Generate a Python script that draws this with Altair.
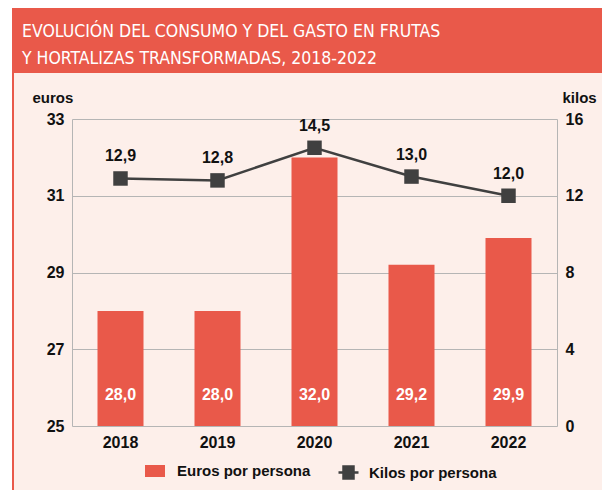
import altair as alt
import pandas as pd

years = ["2018", "2019", "2020", "2021", "2022"]
euros = [28.0, 28.0, 32.0, 29.2, 29.9]
kilos = [12.9, 12.8, 14.5, 13.0, 12.0]
title_lines = ["EVOLUCIÓN DEL CONSUMO Y DEL GASTO EN FRUTAS",
               "Y HORTALIZAS TRANSFORMADAS, 2018-2022"]
euro_ticks = [25, 27, 29, 31, 33]
kilo_ticks = [0, 4, 8, 12, 16]

RED = "#E9594A"
PINK = "#FDEFEA"
DARK = "#404040"
FONT = "Liberation Sans"
TFONT = "DejaVu Sans Condensed"

def fmt(v):
    return f"{v:.1f}".replace(".", ",")

df = pd.DataFrame({
    "year": years,
    "euros": euros,
    "kilos": kilos,
    "euros_lbl": [fmt(v) for v in euros],
    "kilos_lbl": [fmt(v) for v in kilos],
    "s1": ["Euros por persona"] * 5,
    "s2": ["Kilos por persona"] * 5,
})

W, H = 485, 307
one = pd.DataFrame({"a": [0]})

white_strip = alt.Chart(one).mark_rect(color="white").encode(
    x=alt.value(-64), x2=alt.value(-60), y=alt.value(-111), y2=alt.value(371))
border = alt.Chart(one).mark_rect(color=RED).encode(
    x=alt.value(-60), x2=alt.value(-58), y=alt.value(-47), y2=alt.value(371))
banner = alt.Chart(one).mark_rect(color=RED).encode(
    x=alt.value(-60), x2=alt.value(530), y=alt.value(-113), y2=alt.value(-46))
t1 = alt.Chart(one).mark_text(align="left", baseline="alphabetic", color="white",
                              font=TFONT, fontSize=17.5).encode(
    x=alt.value(-50), y=alt.value(-82), text=alt.value(title_lines[0]))
t2 = alt.Chart(one).mark_text(align="left", baseline="alphabetic", color="white",
                              font=TFONT, fontSize=17.5).encode(
    x=alt.value(-50), y=alt.value(-55), text=alt.value(title_lines[1]))

xenc = alt.X("year:N", title=None,
             axis=alt.Axis(labelAngle=0, domain=False, ticks=False, labelPadding=8,
                           labelFontSize=16, labelFontWeight="bold", labelColor="#111",
                           labelFont=FONT))

base = alt.Chart(df)

bars = base.mark_bar(size=46).encode(
    x=xenc,
    y=alt.Y("euros:Q", scale=alt.Scale(domain=[25, 33], nice=False, zero=False),
            axis=alt.Axis(orient="left", values=euro_ticks, grid=True, gridColor="#B5B5B5",
                          domain=True, domainColor="#B5B5B5", ticks=False, labelPadding=8,
                          labelFontSize=16, labelFontWeight="bold", labelColor="#111",
                          labelFont=FONT, title="euros", titleAngle=0, titleAlign="left",
                          titleBaseline="middle", titleX=-40, titleY=-22, titleFontSize=15,
                          titleFontWeight="bold", titleColor="#111", titleFont=FONT)),
    y2=alt.datum(25),
    color=alt.Color("s1:N", scale=alt.Scale(range=[RED]),
                    legend=alt.Legend(orient="none", legendX=73, legendY=342, title=None,
                                      symbolType="M-1,-0.6L1,-0.6L1,0.6L-1,0.6Z",
                                      symbolSize=400, symbolStrokeWidth=0, padding=0,
                                      labelFontSize=15, labelFontWeight="bold",
                                      labelColor="#111", labelFont=FONT, labelOffset=12)),
)
bar_txt = base.mark_text(color="white", fontSize=16, fontWeight="bold", font=FONT,
                         baseline="middle", dy=-31).encode(
    x=alt.X("year:N"), y=alt.datum(25), text="euros_lbl:N")

bar_layer = alt.layer(bars, bar_txt)

yk = alt.Y("kilos:Q", scale=alt.Scale(domain=[0, 16], nice=False),
           axis=alt.Axis(orient="right", values=kilo_ticks, grid=False,
                         domain=True, domainColor="#B5B5B5", ticks=False, labelPadding=8,
                         labelFontSize=16, labelFontWeight="bold", labelColor="#111",
                         labelFont=FONT, title="kilos", titleAngle=0, titleAlign="left",
                         titleBaseline="middle", titleX=5, titleY=-22, titleFontSize=15,
                         titleFontWeight="bold", titleColor="#111", titleFont=FONT))

line = base.mark_line(color=DARK, strokeWidth=2.5).encode(x=alt.X("year:N"), y=yk)
pts = base.mark_square(size=210, opacity=1, filled=True).encode(
    x=alt.X("year:N"), y=yk,
    color=alt.Color("s2:N", scale=alt.Scale(range=[DARK]),
                    legend=alt.Legend(orient="none", legendX=265, legendY=342, title=None,
                                      symbolType="M-1,0L1,0M-0.5,-0.6L0.5,-0.6L0.5,0.6L-0.5,0.6Z",
                                      symbolSize=400, symbolStrokeWidth=2.5,
                                      symbolStrokeColor=DARK, symbolFillColor=DARK, padding=0,
                                      labelFontSize=15, labelFontWeight="bold",
                                      labelColor="#111", labelFont=FONT, labelOffset=9)))
line_txt = base.mark_text(color="#111", fontSize=16, fontWeight="bold", font=FONT,
                          baseline="middle", dy=-22).encode(
    x=alt.X("year:N"), y=yk, text="kilos_lbl:N")

line_layer = alt.layer(line, pts, line_txt)

chart = alt.layer(white_strip, border, banner, t1, t2, bar_layer, line_layer).resolve_scale(
    y="independent", color="independent"
).properties(
    width=W, height=H,
    autosize=alt.AutoSizeParams(type="none"),
    padding={"left": 64, "top": 111, "right": 45, "bottom": 64},
    background=PINK,
).configure_view(stroke=None)

chart.save("out.html", embed_options={"renderer": "svg", "actions": False})
